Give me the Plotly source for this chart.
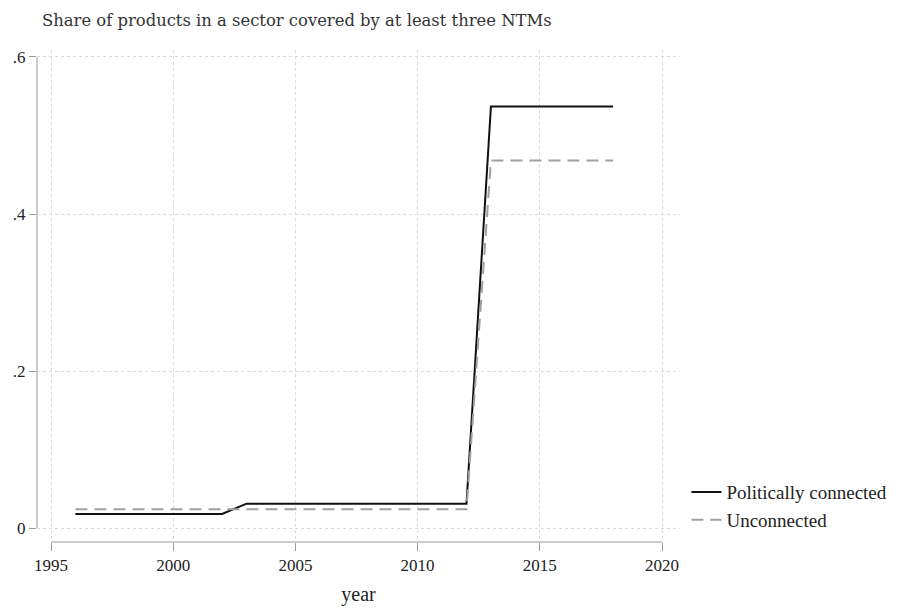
import plotly.graph_objects as go

years = list(range(1996, 2019))
connected = [0.018]*7 + [0.031]*10 + [0.537]*6
unconnected = [0.024]*17 + [0.468]*6
xtick_vals = [1995, 2000, 2005, 2010, 2015, 2020]
ytick_vals = [0, 0.2, 0.4, 0.6]
ytick_text = ["0", ".2", ".4", ".6"]

serif = "Liberation Serif, DejaVu Serif, serif"

fig = go.Figure()
fig.add_trace(go.Scatter(x=years, y=connected, mode="lines", name="Politically connected",
                         line=dict(color="#111111", width=2)))
fig.add_trace(go.Scatter(x=years, y=unconnected, mode="lines", name="Unconnected",
                         line=dict(color="#a0a0a0", width=2, dash="12px,7px")))

fig.add_shape(type="line", xref="paper", yref="y", x0=0, x1=0, y0=0, y1=0.6,
              line=dict(color="#9a9a9a", width=1))
fig.add_shape(type="line", xref="x", yref="paper", x0=1995, x1=2020, y0=0, y1=0,
              line=dict(color="#9a9a9a", width=1))

fig.update_layout(
    width=902, height=609,
    margin=dict(l=37, r=222, t=50, b=67, autoexpand=False),
    paper_bgcolor="white", plot_bgcolor="white",
    font=dict(family=serif, color="#222222", size=17),
    title=dict(text="Share of products in a sector covered by at least three NTMs",
               x=42/902, xanchor="left", y=1-20/609, yanchor="middle",
               font=dict(family="DejaVu Serif, serif", size=16.4, color="#333333")),
    xaxis=dict(range=[1994.427, 2020.736], tickvals=xtick_vals, showline=False,
               zeroline=False, showgrid=True, gridcolor="#dadada", griddash="dot",
               ticks="outside", ticklen=8, tickcolor="#9a9a9a", automargin=False,
               tickfont=dict(size=17, family=serif),
               title=dict(text="year", font=dict(size=20, family=serif), standoff=12)),
    yaxis=dict(range=[-0.0178, 0.6089], tickvals=ytick_vals, ticktext=ytick_text,
               showline=False, zeroline=False, showgrid=True, gridcolor="#dadada",
               griddash="dot", ticks="outside", ticklen=7, tickcolor="#9a9a9a",
               automargin=False, tickfont=dict(size=17, family=serif)),
    legend=dict(x=1.01, xanchor="left", y=0.14, yanchor="top",
                font=dict(size=19, family=serif), bgcolor="rgba(0,0,0,0)",
                tracegroupgap=0),
)

fig.write_html("out.html")
